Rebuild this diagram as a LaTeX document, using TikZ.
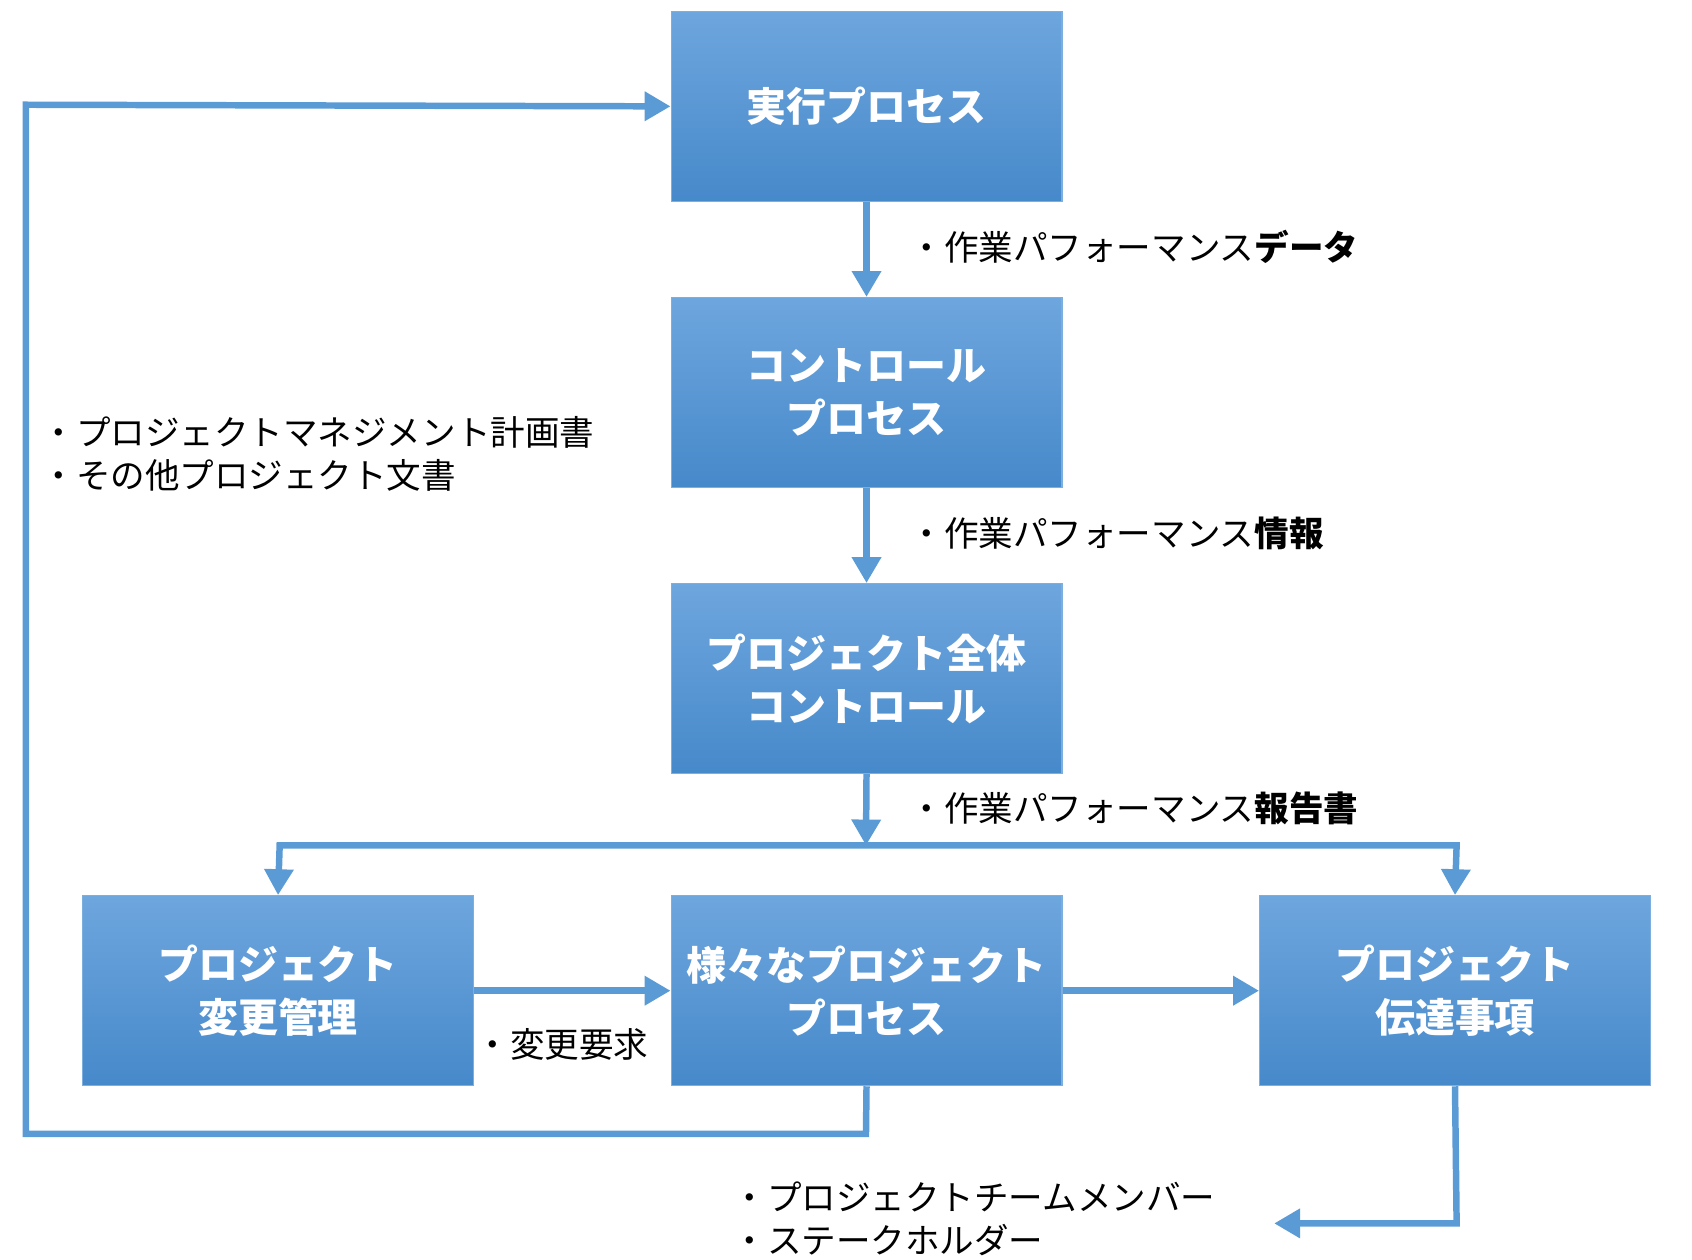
\documentclass[tikz,border=0pt]{standalone}
\usepackage{fontspec}
\setmainfont{Noto Sans CJK JP}
\usetikzlibrary{arrows.meta}
\definecolor{lnc}{HTML}{5B9BD5}
\definecolor{bt}{HTML}{6EA6DE}
\definecolor{bb}{HTML}{4689CA}
\begin{document}
\begin{tikzpicture}[x=0.5pt,y=-0.5pt,
 box/.style={draw=lnc!80,line width=0.5pt,top color=bt,bottom color=bb,minimum width=181pt,minimum height=88pt,text=white,font=\fontsize{18.5}{24.5}\selectfont\bfseries,align=center,anchor=north west,inner sep=0},
 lbl/.style={font=\fontsize{16}{20}\selectfont,align=left,inner sep=0},
 con/.style={draw=lnc,line width=3pt,-{Triangle[length=12pt,width=13pt]}}]
\useasboundingbox (0,0) rectangle (1567,1166);
\node[box] (a) at (621,10) {実行プロセス};
\node[box] (b) at (621,275) {コントロール\\プロセス};
\node[box] (c) at (621,540) {プロジェクト全体\\コントロール};
\node[box] (d) at (76,829) {プロジェクト\\変更管理};
\node[box] (e) at (621,829) {様々なプロジェクト\\プロセス};
\node[box] (f) at (1166,829) {プロジェクト\\伝達事項};
\coordinate (bus) at (802,783);
\coordinate (bl) at (259,783);
\coordinate (br) at (1349,783);
\coordinate (l1) at (802,1050);
\coordinate (l2) at (24,1050);
\coordinate (l3) at (24,97);
\coordinate (r1) at (1349,1133);
\coordinate (r2) at (1180,1133);
\draw[con] (a.south) -- (b.north);
\draw[con] (b.south) -- (c.north);
\draw[con] (c.south) -- (bus);
\draw[con] (bus) -- (bl) -- (d.north);
\draw[con] (bus) -- (br) -- (f.north);
\draw[con] (d.east) -- (e.west);
\draw[con] (e.east) -- (f.west);
\draw[con] (e.south) -- (l1) -- (l2) -- (l3) -- (a.west);
\draw[con] (f.south) -- (r1) -- (r2);
\node[lbl,anchor=west] (t1) at (842,229) {・作業パフォーマンス\textbf{データ}};
\node[lbl,anchor=west] (t2) at (842,494) {・作業パフォーマンス\textbf{情報}};
\node[lbl,anchor=west] (t3) at (842,749) {・作業パフォーマンス\textbf{報告書}};
\node[lbl,anchor=west] (t4) at (38,420) {・プロジェクトマネジメント計画書\\・その他プロジェクト文書};
\node[lbl,anchor=west] (t5) at (440,967) {・変更要求};
\node[lbl,anchor=west] (t6) at (678,1129) {・プロジェクトチームメンバー\\・ステークホルダー};
\end{tikzpicture}
\end{document}
